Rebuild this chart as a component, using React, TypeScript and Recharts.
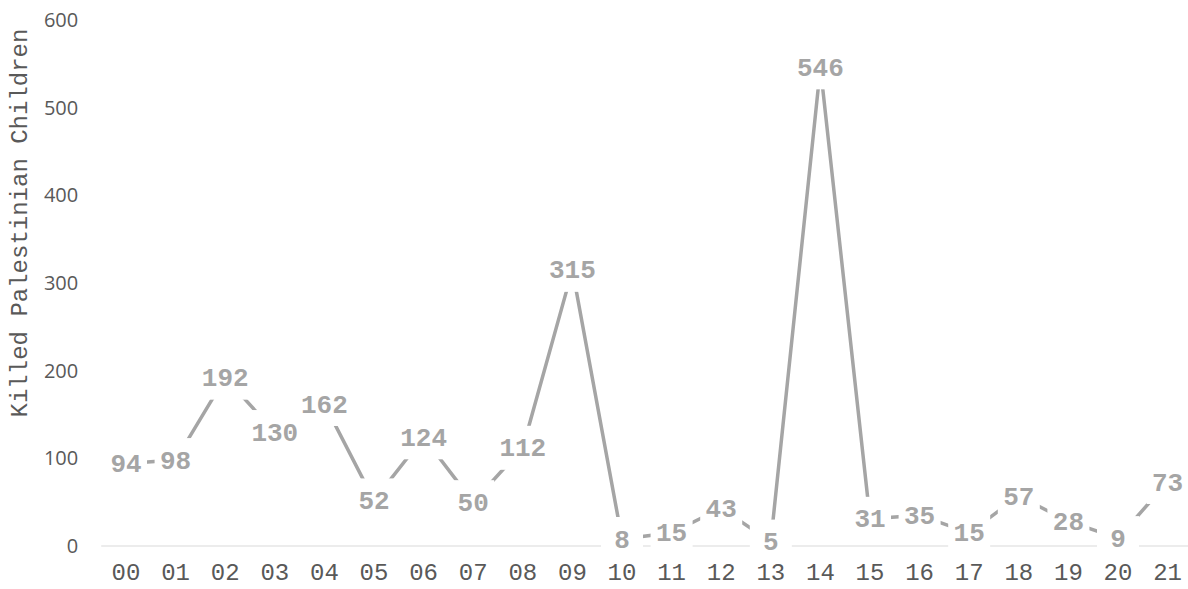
import { LineChart, Line, XAxis, YAxis, LabelList, Label } from "recharts";

const years = [
    "00", "01", "02", "03", "04", "05", "06", "07", "08", "09", "10",
    "11", "12", "13", "14", "15", "16", "17", "18", "19", "20", "21",
];

const killed = [
    94, 98, 192, 130, 162, 52, 124, 50, 112, 315, 8,
    15, 43, 5, 546, 31, 35, 15, 57, 28, 9, 73,
];

const yTicks = [0, 100, 200, 300, 400, 500, 600];

const data = years.map((year, i) => ({ year, killed: killed[i] }));

const mono = "'Courier New', 'Liberation Mono', monospace";
const grey = "#a5a5a5";
const axisText = "#595959";

const DataLabel = (props: any) => {
    const x = props.x ?? props.viewBox?.x;
    const y = props.y ?? props.viewBox?.y;
    const text = String(props.value);
    const w = Math.max(text.length * 15.6 + 10, 42);
    const h = 44;
    return (
        <g>
            <rect x={x - w / 2} y={y - h / 2} width={w} height={h} fill="#ffffff" />
            <text
                x={x}
                y={y}
                dy="0.33em"
                textAnchor="middle"
                fontFamily={mono}
                fontWeight="bold"
                fontSize={26}
                fill={grey}
            >
                {text}
            </text>
        </g>
    );
};

const App = () => {
    return (
        <div style={{ position: "absolute", left: 0, top: 0, background: "#fff" }}>
            <LineChart
                width={1188}
                height={589}
                data={data}
                margin={{ top: 20, right: 0, bottom: 0, left: 0 }}
            >
                <XAxis
                    dataKey="year"
                    interval={0}
                    height={43}
                    padding={{ left: 24.8, right: 20.4 }}
                    stroke="#d9d9d9"
                    tickLine={false}
                    tickSize={0}
                    tickMargin={17}
                    tick={{ fill: axisText, fontFamily: mono, fontSize: 24 }}
                />
                <YAxis
                    domain={[0, 600]}
                    ticks={yTicks}
                    width={101.2}
                    axisLine={false}
                    tickLine={false}
                    tickSize={0}
                    tickMargin={23}
                    tick={{ fill: axisText, fontFamily: "'Open Sans', sans-serif", fontSize: 20 }}
                >
                    <Label
                        content={() => (
                            <text
                                transform="translate(27,223) rotate(-90)"
                                textAnchor="middle"
                                fontFamily={mono}
                                fontSize={24}
                                fill={axisText}
                            >
                                Killed Palestinian Children
                            </text>
                        )}
                    />
                </YAxis>
                <Line
                    type="linear"
                    dataKey="killed"
                    stroke={grey}
                    strokeWidth={3.5}
                    dot={false}
                    activeDot={false}
                    isAnimationActive={false}
                >
                    <LabelList dataKey="killed" content={DataLabel} />
                </Line>
            </LineChart>
        </div>
    );
};

export default App;
